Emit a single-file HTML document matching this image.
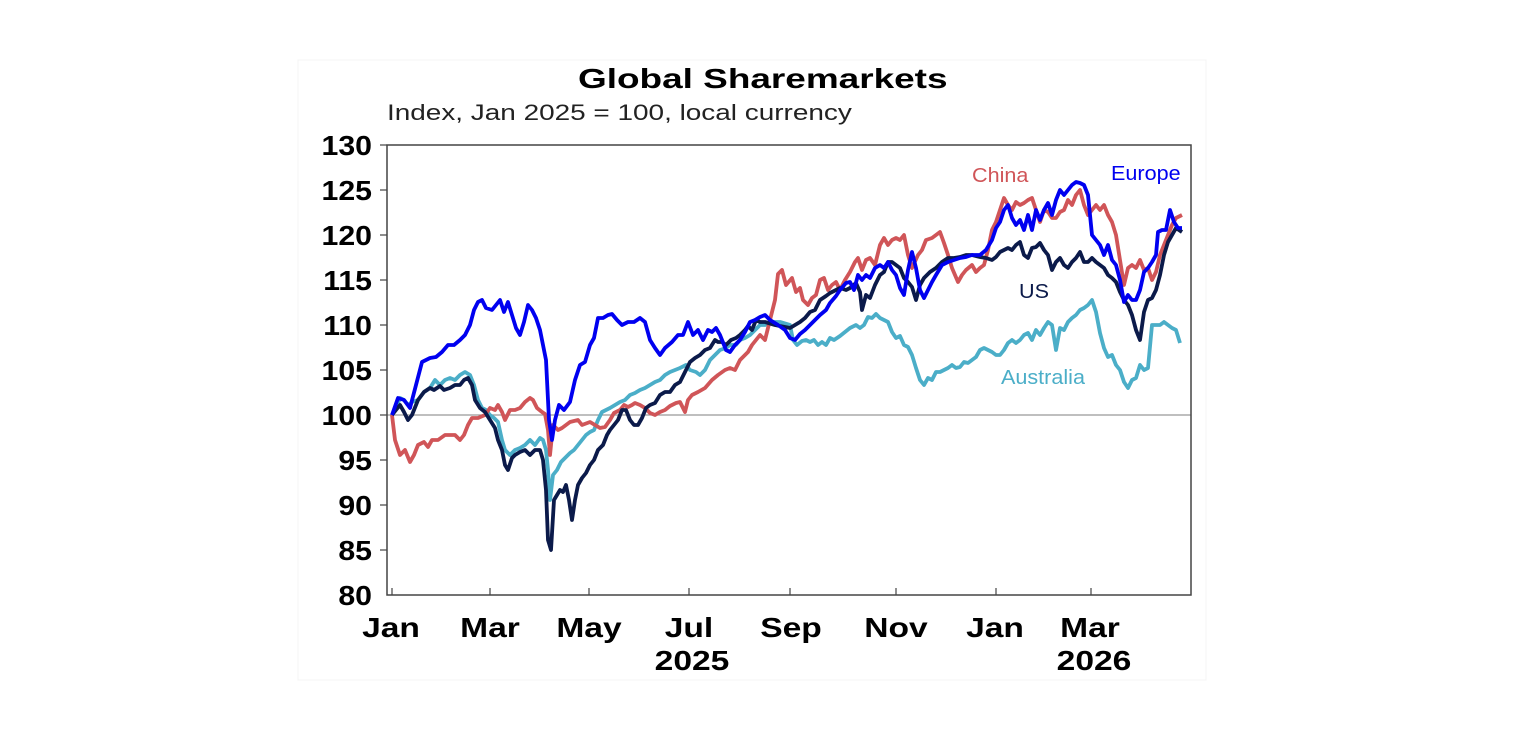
<!DOCTYPE html>
<html><head><meta charset="utf-8"><style>
html,body{margin:0;padding:0;background:#fff;}
svg{display:block;font-family:"Liberation Sans",Arial,sans-serif;}
</style></head><body>
<svg width="1536" height="744" viewBox="0 0 1536 744">
<rect x="298" y="60" width="908" height="620" fill="#fff" stroke="#f4f4f4"/>
<text transform="translate(578,88) scale(1.32,1)" font-size="28" font-weight="bold" fill="#000">Global Sharemarkets</text>
<text transform="translate(387,120) scale(1.27,1)" font-size="22" fill="#222">Index, Jan 2025 = 100, local currency</text>
<g font-size="28" font-weight="bold" fill="#000" text-anchor="end">
<text transform="translate(372,155) scale(1.08,1)">130</text><text transform="translate(372,200) scale(1.08,1)">125</text><text transform="translate(372,245) scale(1.08,1)">120</text>
<text transform="translate(372,290) scale(1.08,1)">115</text><text transform="translate(372,335) scale(1.08,1)">110</text><text transform="translate(372,380) scale(1.08,1)">105</text>
<text transform="translate(372,425) scale(1.08,1)">100</text><text transform="translate(372,470) scale(1.08,1)">95</text><text transform="translate(372,515) scale(1.08,1)">90</text>
<text transform="translate(372,560) scale(1.08,1)">85</text><text transform="translate(372,605) scale(1.08,1)">80</text>
</g>
<g stroke="#444" stroke-width="1.2">
<line x1="380" y1="145" x2="387" y2="145"/><line x1="380" y1="190" x2="387" y2="190"/><line x1="380" y1="235" x2="387" y2="235"/>
<line x1="380" y1="280" x2="387" y2="280"/><line x1="380" y1="325" x2="387" y2="325"/><line x1="380" y1="370" x2="387" y2="370"/>
<line x1="380" y1="415" x2="387" y2="415"/><line x1="380" y1="460" x2="387" y2="460"/><line x1="380" y1="505" x2="387" y2="505"/>
<line x1="380" y1="550" x2="387" y2="550"/>
<line x1="392" y1="595" x2="392" y2="588"/><line x1="490" y1="595" x2="490" y2="588"/><line x1="589" y1="595" x2="589" y2="588"/>
<line x1="689" y1="595" x2="689" y2="588"/><line x1="790" y1="595" x2="790" y2="588"/><line x1="896" y1="595" x2="896" y2="588"/>
<line x1="996" y1="595" x2="996" y2="588"/><line x1="1091" y1="595" x2="1091" y2="588"/>
</g>
<line x1="387" y1="415" x2="1191" y2="415" stroke="#999" stroke-width="1.2"/>
<rect x="387" y="145" width="804" height="450" fill="none" stroke="#444" stroke-width="1.5"/>
<g font-size="28" font-weight="bold" fill="#000" text-anchor="middle">
<text transform="translate(391,637) scale(1.2,1)">Jan</text><text transform="translate(490,637) scale(1.2,1)">Mar</text><text transform="translate(589,637) scale(1.2,1)">May</text>
<text transform="translate(689,637) scale(1.2,1)">Jul</text><text transform="translate(791,637) scale(1.2,1)">Sep</text><text transform="translate(896,637) scale(1.2,1)">Nov</text>
<text transform="translate(995,637) scale(1.2,1)">Jan</text><text transform="translate(1090,637) scale(1.2,1)">Mar</text>
<text transform="translate(692,670) scale(1.2,1)">2025</text><text transform="translate(1094,670) scale(1.2,1)">2026</text>
</g>
<g fill="none" stroke-width="3.8" stroke-linejoin="round">
<polyline stroke="#4BAEC8" points="392,415 396,408 400,398 404,400 408,405 412,402 418,400 424,392 430,388 435,380 440,385 445,380 450,378 455,380 460,375 465,372 470,375 474,385 478,400 482,408 486,410 490,415 494,418 498,422 502,440 505,450 510,455 515,450 520,448 525,445 530,440 535,445 540,438 543,440 546,450 548,470 550,500 553,475 557,470 561,462 565,458 570,453 574,450 578,445 582,440 586,435 590,432 594,430 598,420 602,412 606,410 610,408 615,405 620,402 625,400 630,395 635,393 640,390 645,388 650,385 655,382 660,380 665,375 670,372 675,370 680,368 686,365 690,370 696,372 700,375 705,370 710,360 715,355 720,350 726,348 730,345 736,345 740,340 745,338 750,335 755,330 760,325 765,325 770,322 780,322 790,325 793,340 797,345 802,341 806,340 810,342 814,340 818,345 822,342 826,345 830,338 834,340 840,336 845,332 850,328 856,325 860,328 864,325 868,317 872,318 876,314 880,318 884,320 888,322 892,332 896,338 900,336 904,345 908,347 912,355 916,368 920,380 924,385 928,378 932,380 936,372 940,372 944,370 948,368 952,365 956,368 960,367 964,362 968,363 972,360 976,357 980,350 984,348 988,350 992,352 996,355 1000,355 1004,350 1008,343 1012,340 1016,343 1020,340 1024,335 1028,333 1032,340 1036,330 1040,335 1044,328 1048,322 1052,325 1056,350 1060,328 1064,330 1068,322 1072,318 1076,315 1080,310 1084,308 1088,305 1092,300 1096,312 1100,333 1104,348 1108,357 1112,355 1116,365 1120,370 1124,382 1128,388 1132,380 1136,378 1140,365 1144,370 1148,368 1152,325 1156,325 1160,325 1164,322 1168,325 1172,328 1176,330 1180,343"/>
<polyline stroke="#D05558" points="392,415 395,440 400,455 405,450 410,462 414,455 418,445 424,442 428,447 432,440 438,440 445,435 450,435 455,435 460,440 464,435 468,425 472,418 478,418 485,415 490,408 495,410 498,405 502,412 505,420 510,410 515,410 520,408 525,402 530,398 533,400 537,408 542,412 545,414 548,430 550,455 553,425 558,430 562,428 566,425 570,422 578,420 582,425 590,422 600,428 605,427 610,420 614,413 620,410 624,405 628,407 632,405 635,403 640,405 645,408 650,413 655,415 660,412 665,410 670,406 676,403 680,402 685,412 688,400 692,395 698,392 705,388 712,380 718,375 725,370 730,368 735,370 740,360 745,355 748,352 752,345 756,340 760,335 765,340 770,320 775,300 778,274 782,270 786,285 792,278 796,292 800,288 803,300 808,305 812,298 816,295 820,280 824,278 828,290 832,285 836,282 840,290 845,280 850,272 855,262 858,258 862,270 866,260 870,258 875,265 880,245 884,238 888,245 892,240 896,238 900,240 904,235 908,255 912,268 918,255 922,250 926,240 932,238 936,235 940,232 944,243 948,255 952,268 958,282 962,275 966,270 972,265 976,272 980,268 984,265 988,250 992,230 996,222 1000,210 1004,198 1008,205 1012,210 1016,202 1020,205 1024,203 1028,200 1032,198 1036,210 1040,222 1044,210 1048,212 1052,218 1056,218 1060,212 1064,210 1068,200 1072,205 1076,195 1080,190 1084,205 1088,215 1092,210 1096,205 1100,210 1104,205 1108,215 1112,222 1116,235 1120,260 1124,285 1128,268 1132,265 1136,268 1140,260 1144,270 1148,268 1152,280 1156,272 1160,255 1164,245 1168,235 1172,225 1176,218 1182,215"/>
<polyline stroke="#0B1A4A" points="392,415 396,410 400,405 404,412 408,420 412,415 418,400 424,392 430,388 434,390 440,386 444,390 450,388 455,385 460,385 464,380 468,378 472,385 475,400 480,408 485,412 490,420 495,428 498,440 502,450 505,465 508,470 512,458 515,455 520,452 525,450 530,455 535,450 540,450 543,460 546,490 548,540 551,550 554,500 557,495 560,490 563,492 566,485 569,500 572,520 575,500 578,485 582,478 586,473 590,465 594,460 598,450 603,445 607,435 610,430 614,425 618,420 620,415 622,410 626,410 630,420 634,425 638,425 642,418 646,408 650,405 655,403 660,395 665,392 670,392 675,385 680,382 685,372 690,362 695,358 700,355 705,350 710,348 715,340 718,342 722,342 726,345 731,340 736,338 740,335 745,330 748,326 752,330 756,320 760,322 765,322 775,325 790,328 795,325 800,322 805,318 810,312 815,310 820,300 826,296 830,293 836,290 840,288 846,290 850,288 856,283 860,292 862,310 866,295 870,298 875,285 880,275 884,272 888,262 892,262 896,265 900,268 904,278 908,282 912,287 916,300 920,285 924,278 930,272 936,268 942,262 948,258 954,258 960,257 966,255 972,255 980,257 986,258 992,260 996,257 1000,252 1004,250 1008,248 1012,250 1016,245 1020,242 1024,255 1028,258 1032,248 1036,247 1040,243 1044,250 1048,255 1052,270 1056,262 1060,258 1064,265 1068,268 1072,262 1076,258 1080,252 1084,262 1088,262 1092,258 1096,262 1100,265 1104,268 1108,275 1112,278 1116,282 1120,292 1124,300 1128,305 1132,315 1136,330 1140,340 1144,312 1148,300 1152,298 1156,290 1160,275 1164,255 1168,242 1172,235 1176,228 1182,232"/>
<polyline stroke="#0000F0" points="392,415 398,398 404,400 410,408 416,385 422,362 430,358 436,357 442,352 448,345 454,345 460,340 465,335 470,325 474,310 478,302 482,300 486,308 492,310 496,305 500,300 504,312 508,302 512,315 516,328 520,335 524,322 528,305 532,310 536,318 540,330 543,345 546,360 549,420 552,440 555,420 559,405 564,410 570,402 575,380 580,365 585,362 590,345 594,338 598,318 603,318 608,315 612,314 617,320 622,325 628,322 634,322 640,318 645,322 650,340 655,348 660,355 665,348 672,342 678,335 683,335 688,322 693,335 698,330 703,340 708,330 712,332 716,328 720,335 726,350 730,352 735,345 740,340 745,332 750,322 755,320 760,317 765,315 770,320 778,325 785,330 790,338 795,340 800,334 805,330 810,325 815,320 820,315 826,310 830,303 836,296 840,290 846,283 850,282 854,290 858,275 862,280 866,275 870,278 875,268 880,265 884,268 888,262 892,270 896,275 900,288 904,295 908,270 912,252 916,268 920,290 924,298 928,290 932,282 936,275 942,265 948,262 954,260 960,258 966,257 972,255 980,255 986,250 992,240 996,228 1000,222 1004,210 1008,205 1012,218 1016,225 1020,220 1024,230 1028,215 1032,230 1036,210 1040,220 1044,210 1048,203 1052,215 1056,200 1060,190 1064,195 1068,190 1072,185 1076,182 1080,183 1084,185 1088,195 1092,235 1096,240 1100,245 1104,255 1108,245 1112,260 1116,265 1120,280 1124,302 1128,295 1132,300 1136,300 1140,290 1144,272 1148,268 1152,262 1156,255 1158,232 1162,230 1166,230 1170,210 1174,222 1178,228 1182,228"/>
</g>
<g font-size="20">
<text transform="translate(972,182) scale(1.08,1)" fill="#D05558">China</text>
<text transform="translate(1111,180) scale(1.08,1)" fill="#0000F0">Europe</text>
<text transform="translate(1019,298) scale(1.08,1)" fill="#0B1A4A">US</text>
<text transform="translate(1001,384) scale(1.08,1)" fill="#4BAEC8">Australia</text>
</g>
</svg>
</body></html>
